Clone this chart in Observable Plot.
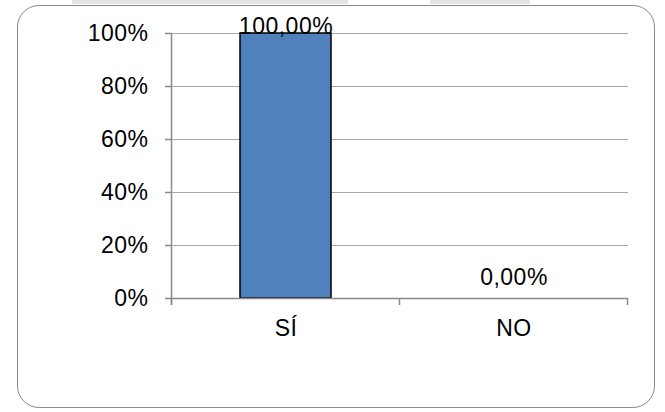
<!DOCTYPE html>
<html>
<head>
<meta charset="utf-8">
<script src="https://cdn.jsdelivr.net/npm/d3@7"></script>
<script src="https://cdn.jsdelivr.net/npm/@observablehq/plot@0.6"></script>
<style>
  html, body { margin: 0; padding: 0; background: #fff; }
  #wrap { position: relative; width: 665px; height: 412px; overflow: hidden; font-family: "Liberation Sans", Arial, sans-serif; }
  .strip { position: absolute; top: 0; height: 4px; background: #e4e4e4; }
  #frame { position: absolute; left: 17px; top: 5px; width: 636px; height: 401px; border: 1.5px solid #8a8a8a; border-radius: 22px; box-sizing: content-box; }
  #chart { position: absolute; left: 0; top: 0; }
  #chart svg text { letter-spacing: 0.5px; }
</style>
</head>
<body>
<div id="wrap">
  <div class="strip" style="left:72px;width:276px"></div>
  <div class="strip" style="left:430px;width:100px"></div>
  <div id="frame"></div>
  <div id="chart"></div>
</div>
<script>
const categories = ["SÍ", "NO"];
const values = [1.0, 0.0];
const valueLabels = ["100,00%", "0,00%"];
const yTicks = [0, 0.2, 0.4, 0.6, 0.8, 1.0];
const yTickLabels = ["0%", "20%", "40%", "60%", "80%", "100%"];

const data = categories.map((c, i) => ({cat: c, value: values[i], label: valueLabels[i]}));
const fontSize = 23;
const axisColor = "#8a8a8a";

const plot = Plot.plot({
  width: 665,
  height: 412,
  marginLeft: 172,
  marginRight: 37,
  marginTop: 33,
  marginBottom: 114,
  style: {background: "transparent", fontFamily: "'Liberation Sans', Arial, sans-serif", color: "#000"},
  x: {domain: categories, paddingInner: 0.6, paddingOuter: 0.3, label: null},
  y: {domain: [0, 1], label: null},
  marks: [
    Plot.gridY(yTicks, {stroke: "#a8a8a8", strokeOpacity: 1, strokeWidth: 1}),
    Plot.axisY(yTicks, {tickSize: 7, tickPadding: 17, fontSize, stroke: axisColor, strokeWidth: 1.5, fill: "#000",
      tickFormat: d => yTickLabels[yTicks.indexOf(d)], label: null}),
    Plot.axisX({tickSize: 0, tickPadding: 21, fontSize, fill: "#000", label: null}),
    Plot.barY(data, {x: "cat", y: "value", fill: "#4f81bd", stroke: "#000", strokeWidth: 1.5}),
    Plot.ruleY([0], {stroke: axisColor, strokeWidth: 1.5}),
    Plot.text(data.filter(d => d.value > 0), {x: "cat", y: "value", text: "label", lineAnchor: "bottom", dy: 0, fontSize, fill: "#000"}),
    Plot.text(data.filter(d => d.value === 0), {x: "cat", y: "value", text: "label", lineAnchor: "bottom", dy: -14, fontSize, fill: "#000"})
  ]
});
document.getElementById("chart").appendChild(plot);

// category boundary ticks and y axis line, positioned from the library's scales
const xs = plot.scale("x");
const ys = plot.scale("y");
const gap = xs.step - xs.bandwidth;
const bounds = categories.map(c => xs.apply(c) - gap / 2);
bounds.push(xs.apply(categories[categories.length - 1]) + xs.bandwidth + gap / 2);
const y0 = ys.apply(0), y1 = ys.apply(1);
const svg = d3.select(plot);
const g = svg.append("g").attr("stroke", axisColor).attr("stroke-width", 1.5);
g.selectAll("line.b").data(bounds).join("line")
  .attr("x1", d => d).attr("x2", d => d).attr("y1", y0).attr("y2", y0 + 7);
g.append("line").attr("x1", bounds[0]).attr("x2", bounds[0]).attr("y1", y1).attr("y2", y0 + 7);
</script>
</body>
</html>
